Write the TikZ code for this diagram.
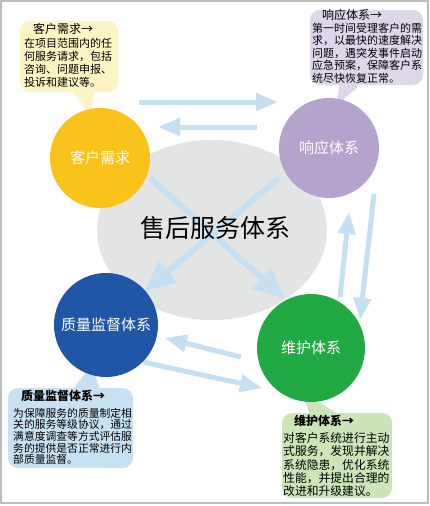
\documentclass[tikz,border=0pt]{standalone}
\usepackage{fontspec}
\newfontfamily\cjk{Noto Sans CJK SC}
\usetikzlibrary{arrows.meta,shapes.geometric}
\definecolor{cYellow}{HTML}{F9C31B}
\definecolor{cPurple}{HTML}{B4A3CC}
\definecolor{cBlue}{HTML}{1F56A5}
\definecolor{cGreen}{HTML}{21A944}
\definecolor{cGray}{HTML}{E3E4E4}
\definecolor{cArrow}{HTML}{C5E0F3}
\definecolor{lYellow}{HTML}{FCF4C2}
\definecolor{lPurple}{HTML}{DED6EA}
\definecolor{lBlue}{HTML}{C7E1F3}
\definecolor{lGreen}{HTML}{CBE5B8}
\definecolor{cFrame}{HTML}{BDBDBD}
\tikzset{
  flow/.style={draw=cArrow, line width=5pt, -{Triangle[length=22pt,width=17pt]}},
  bigflow/.style={draw=cArrow, line width=6pt, -{Triangle[length=30pt,width=27pt]}},
  disc/.style={circle, minimum size=#1, inner sep=0pt, text=white, font=\cjk\fontsize{15}{18}\selectfont},
  calltitle/.style={inner sep=0pt, font=\cjk\fontsize{12}{14}\selectfont},
  callbody/.style={inner sep=0pt, anchor=north west, align=left},
  box/.style={rounded corners=10pt}
}
\begin{document}
\begin{tikzpicture}[x=1pt,y=-1pt]
\useasboundingbox (0,0) rectangle (430,506);
\fill[white] (0,0) rectangle (430,506);
\draw[cFrame, line width=1.2pt] (1,1) rectangle (428,503);

% central ellipse
\node[ellipse, fill=cGray, minimum width=230pt, minimum height=180pt, inner sep=0pt] (core) at (212,230) {};

% arrow end points
\coordinate (a1s) at (139,102); \coordinate (a1e) at (278,102);
\coordinate (a2s) at (257,127); \coordinate (a2e) at (158,127);
\coordinate (a3s) at (150,178); \coordinate (a3e) at (284,298);
\coordinate (a4s) at (279,178); \coordinate (a4e) at (145,291);
\coordinate (a5s) at (340,297); \coordinate (a5e) at (349,212);
\coordinate (a6s) at (374,194); \coordinate (a6e) at (360,320);
\coordinate (a7s) at (241,357); \coordinate (a7e) at (165,338);
\coordinate (a8s) at (143,362); \coordinate (a8e) at (262,388);

\draw[flow] (a1s) -- (a1e);
\draw[flow] (a2s) -- (a2e);
\draw[bigflow] (a3s) -- (a3e);
\draw[bigflow] (a4s) -- (a4e);
\draw[flow] (a5s) -- (a5e);
\draw[flow] (a6s) -- (a6e);
\draw[flow] (a7s) -- (a7e);
\draw[flow] (a8s) -- (a8e);
\node[font=\cjk\fontsize{25}{28}\selectfont, inner sep=0pt] (coret) at (215,228) {售后服务体系};

% callouts
\fill[lYellow, box] (20,21) rectangle (118,92);
\fill[lYellow] (72,90) -- (94,90) -- (91,116) -- cycle;
\node[calltitle] (t1) at (63,29) {客户需求→};
\node[callbody, font=\cjk\fontsize{11}{13}\selectfont] (b1) at (24,38.5) {在项目范围内的任\\何服务请求，包括\\咨询、问题申报、\\投诉和建议等。};

\fill[lPurple, box] (310,10) rectangle (423,85);
\fill[lPurple] (340,83) -- (362,83) -- (336,106) -- cycle;
\node[calltitle] (t2) at (352,15) {响应体系→};
\node[callbody, font=\cjk\fontsize{11}{12.6}\selectfont] (b2) at (312,22.5) {第一时间受理客户的需\\求，以最快的速度解决\\问题，遇突发事件启动\\应急预案，保障客户系\\统尽快恢复正常。};

\fill[lBlue, box] (8,388) rectangle (133,468);
\fill[lBlue] (72,390) -- (100,390) -- (92,365) -- cycle;
\node[calltitle, font=\cjk\bfseries\fontsize{12}{14}\selectfont] (t3) at (63,396) {质量监督体系→};
\node[callbody, font=\cjk\fontsize{10.8}{11.6}\selectfont] (b3) at (13,408) {为保障服务的质量制定相\\关的服务等级协议，通过\\满意度调查等方式评估服\\务的提供是否正常进行内\\部质量监督。};

\fill[lGreen, box] (282,413) rectangle (392,498);
\fill[lGreen] (310,415) -- (340,415) -- (302,392) -- cycle;
\node[calltitle, font=\cjk\bfseries\fontsize{12}{14}\selectfont] (t4) at (324,421) {维护体系→};
\node[callbody, font=\cjk\fontsize{11.8}{13.2}\selectfont] (b4) at (283,432.5) {对客户系统进行主动\\式服务，发现并解决\\系统隐患，优化系统\\性能，并提出合理的\\改进和升级建议。};

% circles
\node[disc=100pt, fill=cYellow] (need) at (100,158) {客户需求};
\node[disc=100pt, fill=cPurple] (resp) at (329,148) {响应体系};
\node[disc=104pt, fill=cBlue] (qual) at (106,325) {质量监督体系};
\node[disc=108pt, fill=cGreen] (main) at (311,348) {维护体系};
\end{tikzpicture}
\end{document}
